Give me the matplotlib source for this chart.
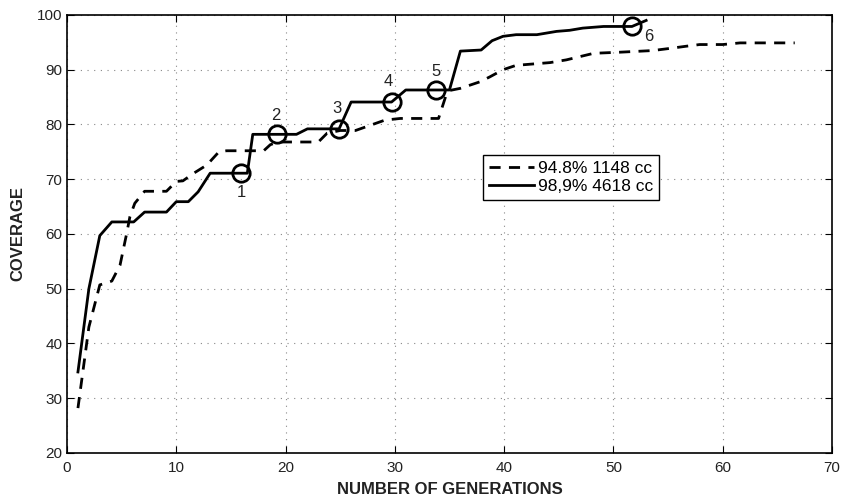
import matplotlib
matplotlib.use('Agg')
import matplotlib.pyplot as plt

# dashed run: 94.8% 1148 cc
gen_a = [1, 2, 3, 4.1, 4.85, 5.46, 5.76, 6.2, 7.1, 9.1, 10.0, 10.6, 11.6, 12.8, 13.9, 14.6,
         18.0, 18.6, 19.3, 23.0, 23.8, 25.0, 26.4, 29.1, 30.5, 34.0, 34.7, 35.0, 36.0, 37.8,
         38.7, 39.9, 41.1, 44.2, 45.7, 48.2, 50.6, 53.6, 55.2, 56.7, 57.9, 60.0, 61.6, 66.6]
cov_a = [28.2, 43.0, 50.7, 51.4, 54.3, 60.1, 63.2, 65.6, 67.8, 67.8, 69.6, 69.7, 71.1, 72.6, 75.0, 75.2,
         75.2, 76.3, 76.8, 76.8, 78.4, 78.9, 78.9, 80.8, 81.1, 81.1, 85.4, 86.2, 86.6, 87.8,
         88.7, 90.0, 90.8, 91.3, 91.8, 93.0, 93.2, 93.5, 93.9, 94.3, 94.6, 94.6, 94.9, 94.9]

# solid run: 98,9% 4618 cc
gen_b = [1, 2, 3, 4.1, 6.1, 7.1, 9.1, 10.0, 11.1, 12.0, 13.1, 15.9, 16.5, 17.0, 19.2, 21.0,
         22.0, 24.9, 26.0, 29.7, 31.0, 33.8, 35.0, 36.0, 37.9, 38.9, 39.9, 41.1, 43.0, 44.8,
         46.0, 47.2, 49.1, 51.7, 53.0]
cov_b = [34.8, 50.0, 59.7, 62.2, 62.2, 64.0, 64.0, 65.9, 65.9, 67.7, 71.1, 71.1, 71.1, 78.2, 78.2, 78.2,
         79.2, 79.2, 84.1, 84.1, 86.3, 86.3, 86.3, 93.4, 93.6, 95.3, 96.1, 96.4, 96.4, 97.0,
         97.2, 97.6, 97.9, 97.9, 99.0]

# highlighted generations on the solid run
mark_x = [15.9, 19.2, 24.9, 29.7, 33.8, 51.7]
mark_y = [71.1, 78.2, 79.2, 84.1, 86.3, 97.9]
mark_labels = ['1', '2', '3', '4', '5', '6']
label_x = [16.0, 19.1, 24.7, 29.4, 33.8, 53.2]
label_y = [67.6, 81.7, 83.0, 87.8, 89.6, 96.1]

plt.rcParams['font.family'] = ['Liberation Sans', 'DejaVu Sans']

fig = plt.figure(figsize=(8.42, 4.99), dpi=100)
ax = fig.add_axes([0.0796, 0.0922, 0.9084, 0.8778])

ax.plot(gen_a, cov_a, '--', color='black', lw=2.0, dashes=(4, 3), label='94.8% 1148 cc')
ax.plot(gen_b, cov_b, '-', color='black', lw=2.0, label='98,9% 4618 cc')
ax.plot(mark_x, mark_y, 'o', ms=12.5, mfc='none', mec='black', mew=2.0)
for lx, ly, t in zip(label_x, label_y, mark_labels):
    ax.text(lx, ly, t, fontsize=12, ha='center', va='center', color='#222222')

ax.set_xlim(0, 70)
ax.set_ylim(20, 100)
ax.set_xticks(range(0, 71, 10))
ax.set_yticks(range(20, 101, 10))
ax.tick_params(direction='in', top=True, right=True, labelsize=11, length=5,
               labelcolor='#222222')
ax.tick_params(axis='x', pad=6)
ax.grid(True, linestyle=(0, (1, 5)), color='#888888', lw=0.8)
for s in ax.spines.values():
    s.set_linewidth(1.2)

ax.set_xlabel('NUMBER OF GENERATIONS', fontsize=12, fontweight='bold', labelpad=5,
              color='#222222')
ax.set_ylabel('COVERAGE', fontsize=12, fontweight='bold', labelpad=8, color='#222222')

leg = ax.legend(loc='upper left', bbox_to_anchor=(0.544, 0.68), fontsize=12.5, fancybox=False,
                framealpha=1, edgecolor='black', handlelength=2.6, handletextpad=0.2,
                borderpad=0.35, labelspacing=0.15, borderaxespad=0)
leg.get_frame().set_linewidth(1.0)

fig.savefig('out.png', dpi=100)
plt.close(fig)
